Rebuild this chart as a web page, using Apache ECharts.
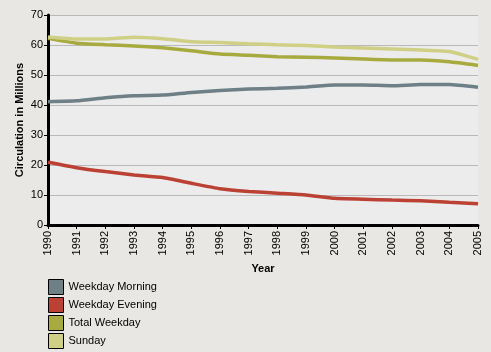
<!DOCTYPE html>
<html lang="en">
<head>
    <meta charset="UTF-8">
    <title>Newspaper Circulation</title>
    <script src="https://cdn.jsdelivr.net/npm/echarts/dist/echarts.min.js"></script>
</head>
<body style="margin: 0; background: #e9e7e3">
    <div id="chart" style="width: 491px; height: 352px;"></div>
    <script>
        // data
        const years = ['1990', '1991', '1992', '1993', '1994', '1995', '1996', '1997',
            '1998', '1999', '2000', '2001', '2002', '2003', '2004', '2005'];
        const weekdayMorning = [41.1, 41.4, 42.4, 43.1, 43.3, 44.2, 44.8, 45.3, 45.6, 46.0, 46.7, 46.7, 46.4, 46.8, 46.8, 45.9];
        const weekdayEvening = [20.9, 19.1, 17.8, 16.7, 15.8, 13.9, 12.1, 11.2, 10.6, 10.0, 8.9, 8.6, 8.3, 8.1, 7.6, 7.1];
        const totalWeekday = [62.2, 60.6, 60.1, 59.7, 59.1, 58.1, 57.0, 56.6, 56.1, 55.9, 55.7, 55.3, 55.0, 55.0, 54.4, 53.2];
        const sunday = [62.7, 62.0, 62.0, 62.6, 62.1, 61.1, 60.8, 60.4, 60.1, 59.8, 59.3, 59.0, 58.7, 58.3, 57.8, 55.2];

        const seriesNames = ['Weekday Morning', 'Weekday Evening', 'Total Weekday', 'Sunday'];
        const seriesData = [weekdayMorning, weekdayEvening, totalWeekday, sunday];
        const colors = ['#6e7f86', '#bb4134', '#a7aa3f', '#cfcf86'];

        const myChart = echarts.init(document.getElementById('chart'));

        const font = 'Arial, "Liberation Sans", sans-serif';

        const option = {
            backgroundColor: '#e9e7e3',
            textStyle: { fontFamily: font },
            grid: {
                left: 48, right: 13, top: 15, bottom: 127,
                show: true, backgroundColor: '#ececec', borderWidth: 0
            },
            legend: {
                orient: 'vertical',
                left: 48, top: 279,
                padding: 0,
                icon: 'rect',
                itemWidth: 15, itemHeight: 15, itemGap: 2,
                itemStyle: { borderColor: '#000', borderWidth: 1 },
                textStyle: { fontSize: 11, color: '#000', fontFamily: font },
                data: seriesNames
            },
            xAxis: {
                type: 'category',
                data: years,
                boundaryGap: false,
                name: 'Year',
                nameLocation: 'middle',
                nameGap: 38,
                nameMoveOverlap: false,
                nameTextStyle: { fontWeight: 'bold', fontSize: 11, color: '#000' },
                axisLine: { lineStyle: { color: '#000', width: 3 } },
                axisTick: { alignWithLabel: true, length: 4, lineStyle: { color: '#000' } },
                axisLabel: { rotate: 90, fontSize: 11, color: '#000', margin: 6, interval: 0 },
                splitLine: { show: false }
            },
            yAxis: {
                type: 'value',
                min: 0, max: 70, interval: 10,
                name: 'Circulation in Millions',
                nameLocation: 'middle',
                nameGap: 23,
                nameMoveOverlap: false,
                nameTextStyle: { fontWeight: 'bold', fontSize: 11, color: '#000' },
                axisLine: { show: true, lineStyle: { color: '#000', width: 3 } },
                axisTick: { show: true, length: 4, lineStyle: { color: '#000' } },
                axisLabel: { fontSize: 11, color: '#000', margin: 5 },
                splitLine: { lineStyle: { color: '#b9b9b9', width: 1 } }
            },
            series: seriesNames.map((name, i) => ({
                name: name,
                type: 'line',
                data: seriesData[i],
                symbol: 'none',
                color: colors[i],
                lineStyle: { width: 3.5 },
                smooth: 0.15
            }))
        };

        myChart.setOption(option);
    </script>
</body>
</html>
